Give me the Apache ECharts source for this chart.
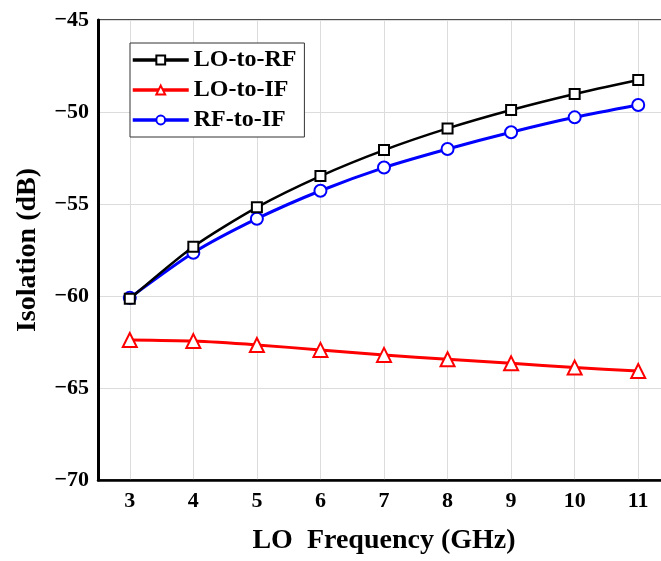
<!DOCTYPE html>
<html>
<head>
<meta charset="utf-8">
<script src="https://cdn.jsdelivr.net/npm/echarts@6/dist/echarts.min.js"></script>
<style>
  html, body { margin: 0; padding: 0; background: #fff; }
  #chart { width: 661px; height: 561px; }
</style>
</head>
<body>
<div id="chart"></div>
<script>
// LO frequency (GHz)
const freqs = [3, 4, 5, 6, 7, 8, 9, 10, 11]
// isolation values (dB)
const loToRf = [-60.15, -57.32, -55.18, -53.48, -52.07, -50.89, -49.89, -49.02, -48.26]
const loToIf = [-62.39, -62.45, -62.66, -62.93, -63.2, -63.44, -63.66, -63.89, -64.08]
const rfToIf = [-60.1, -57.65, -55.8, -54.28, -53.02, -52.01, -51.1, -50.29, -49.62]

const FONT = '"Liberation Serif", "Times New Roman", serif'

const pairs = (ys) => freqs.map((x, i) => [x, ys[i]])

const seriesDefs = [
  { name: 'LO-to-RF', data: loToRf, color: '#000000', symbol: 'rect', size: 10, width: 2.5 },
  { name: 'LO-to-IF', data: loToIf, color: '#ff0000', symbol: 'triangle', size: 14, width: 3 },
  { name: 'RF-to-IF', data: rfToIf, color: '#0000ff', symbol: 'circle', size: 12, width: 3 }
]

const chart = echarts.init(document.getElementById('chart'))

chart.setOption({
  animation: false,
  backgroundColor: '#fff',
  grid: {
    left: 98,
    top: 20,
    right: -9,
    bottom: 81,
    outerBoundsMode: 'none',
    show: true,
    borderColor: '#111',
    borderWidth: 1.5
  },
  legend: {
    orient: 'vertical',
    left: 130,
    top: 43,
    itemWidth: 56,
    itemHeight: 11,
    itemGap: 6,
    padding: [5, 8, 5, 1],
    borderColor: '#333',
    borderWidth: 1,
    backgroundColor: '#fff',
    lineStyle: { width: 3.5 },
    textStyle: {
      fontFamily: FONT,
      fontWeight: 'bold',
      fontSize: 24,
      color: '#000'
    },
    data: seriesDefs.map(s => s.name)
  },
  xAxis: {
    type: 'value',
    min: 2.5,
    max: 11.5,
    minInterval: 1,
    maxInterval: 1,
    name: 'LO  Frequency (GHz)',
    nameLocation: 'middle',
    nameGap: 47,
    nameTextStyle: {
      fontFamily: FONT,
      fontWeight: 'bold',
      fontSize: 28,
      color: '#000'
    },
    axisLine: { onZero: false, lineStyle: { color: '#000', width: 2.5 } },
    axisTick: { show: false },
    axisLabel: {
      margin: 10,
      fontFamily: FONT,
      fontWeight: 'bold',
      fontSize: 22,
      color: '#000',
      formatter: v => (Number.isInteger(v) ? String(v) : '')
    },
    splitLine: { show: true, lineStyle: { color: '#dcdcdc', width: 1 } }
  },
  yAxis: {
    type: 'value',
    min: -70,
    max: -45,
    interval: 5,
    name: 'Isolation (dB)',
    nameLocation: 'middle',
    nameGap: 56,
    nameRotate: 90,
    nameTextStyle: {
      fontFamily: FONT,
      fontWeight: 'bold',
      fontSize: 28,
      color: '#000'
    },
    axisLine: { show: true, onZero: false, lineStyle: { color: '#000', width: 3 } },
    axisTick: { show: false },
    axisLabel: {
      margin: 9,
      fontFamily: FONT,
      fontWeight: 'bold',
      fontSize: 22,
      color: '#000',
      formatter: v => String(v).replace('-', '\u2212')
    },
    splitLine: { show: true, lineStyle: { color: '#dcdcdc', width: 1 } }
  },
  series: seriesDefs.map(s => ({
    name: s.name,
    type: 'line',
    data: pairs(s.data),
    smooth: 0.25,
    symbol: s.symbol,
    symbolSize: s.size,
    showAllSymbol: true,
    lineStyle: { color: s.color, width: s.width },
    itemStyle: { color: '#fff', borderColor: s.color, borderWidth: 2 },
    z: s.name === 'LO-to-RF' ? 3 : 2
  }))
})
</script>
</body>
</html>
